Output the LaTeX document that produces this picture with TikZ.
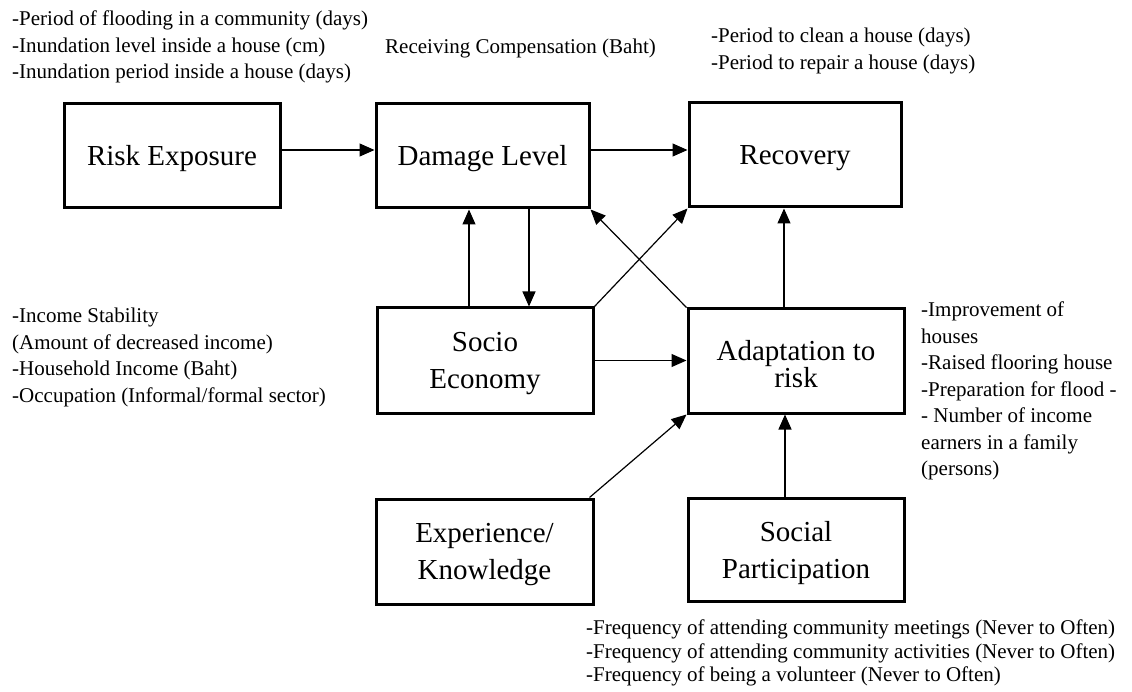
\documentclass[tikz,border=0pt]{standalone}
\usepackage{fontspec}
\setmainfont{Liberation Serif}
\usetikzlibrary{arrows.meta}

\tikzset{
  box/.style={draw, line width=3pt, inner sep=0pt},
  lbl/.style={inner sep=0pt, align=center, yshift=-3pt,
    font=\fontsize{29}{37}\selectfont},
  arr/.style={line width=1.2pt, -{Triangle[length=15pt,width=13pt]}},
  note/.style={anchor=north west, inner sep=0pt, align=left,
    font=\fontsize{21}{26.5}\selectfont},
}

\begin{document}
\begin{tikzpicture}[x=1pt, y=-1pt]
  \useasboundingbox (0,0) rectangle (1132,692);

  % concept boxes
  \node[box, minimum width=216pt, minimum height=104pt,
        label={[lbl]center:Risk Exposure}] (RE) at (172,156) {};
  \node[box, minimum width=213pt, minimum height=104pt,
        label={[lbl]center:Damage Level}] (DL) at (482.5,156) {};
  \node[box, minimum width=212pt, minimum height=104pt,
        label={[lbl]center:Recovery}] (RC) at (795,155) {};
  \node[box, minimum width=216pt, minimum height=105pt,
        label={[lbl]center:Socio\\Economy}] (SE) at (485,360.5) {};
  \node[box, minimum width=216pt, minimum height=104pt,
        label={[lbl, font=\fontsize{29}{26}\selectfont]center:Adaptation to\\risk}] (AD) at (796,361) {};
  \node[box, minimum width=217pt, minimum height=105pt,
        label={[lbl]center:Experience/\\Knowledge}] (EK) at (484.5,551.5) {};
  \node[box, minimum width=216pt, minimum height=103pt,
        label={[lbl]center:Social\\Participation}] (SP) at (796,550) {};

  % causal links
  \draw[arr] ([yshift=6pt]RE.east) -- ([yshift=6pt]RE.east -| DL.west);
  \draw[arr] ([yshift=6pt]DL.east) -- ([yshift=6pt]DL.east -| RC.west);
  \draw[arr] ([xshift=-16pt]SE.north) -- ([xshift=-16pt]SE.north |- DL.south);
  \draw[arr] ([xshift=44pt]SE.north |- DL.south) -- ([xshift=44pt]SE.north);
  \draw[arr] (SE.north east) -- (RC.south west);
  \draw[arr] (AD.north west) -- (DL.south east);
  \draw[arr] (SE.east) -- (SE.east -| AD.west);
  \draw[arr] ([xshift=-12pt]AD.north) -- ([xshift=-12pt]AD.north |- RC.south);
  \draw[arr] ([xshift=-5pt]EK.north east) -- (AD.south west);
  \draw[arr] ([xshift=-11pt]SP.north) -- ([xshift=-11pt]SP.north |- AD.south);

  % indicator lists
  \node[note] (nRE) at (12,11) {-Period of flooding in a community (days)\\
    -Inundation level inside a house (cm)\\
    -Inundation period inside a house (days)};
  \node[note] (nDL) at (385,39) {Receiving Compensation (Baht)};
  \node[note] (nRC) at (711,28) {-Period to clean a house (days)\\
    -Period to repair a house (days)};
  \node[note] (nSE) at (12,308) {-Income Stability\\
    (Amount of decreased income)\\
    -Household Income (Baht)\\
    -Occupation (Informal/formal sector)};
  \node[note] (nAD) at (921,302) {-Improvement of\\
    houses\\
    -Raised flooring house\\
    -Preparation for flood -\\
    - Number of income\\
    earners in a family\\
    (persons)};
  \node[note, font=\fontsize{21}{23.5}\selectfont] (nSP) at (586,620)
    {-Frequency of attending community meetings (Never to Often)\\
    -Frequency of attending community activities (Never to Often)\\
    -Frequency of being a volunteer (Never to Often)};
\end{tikzpicture}
\end{document}
